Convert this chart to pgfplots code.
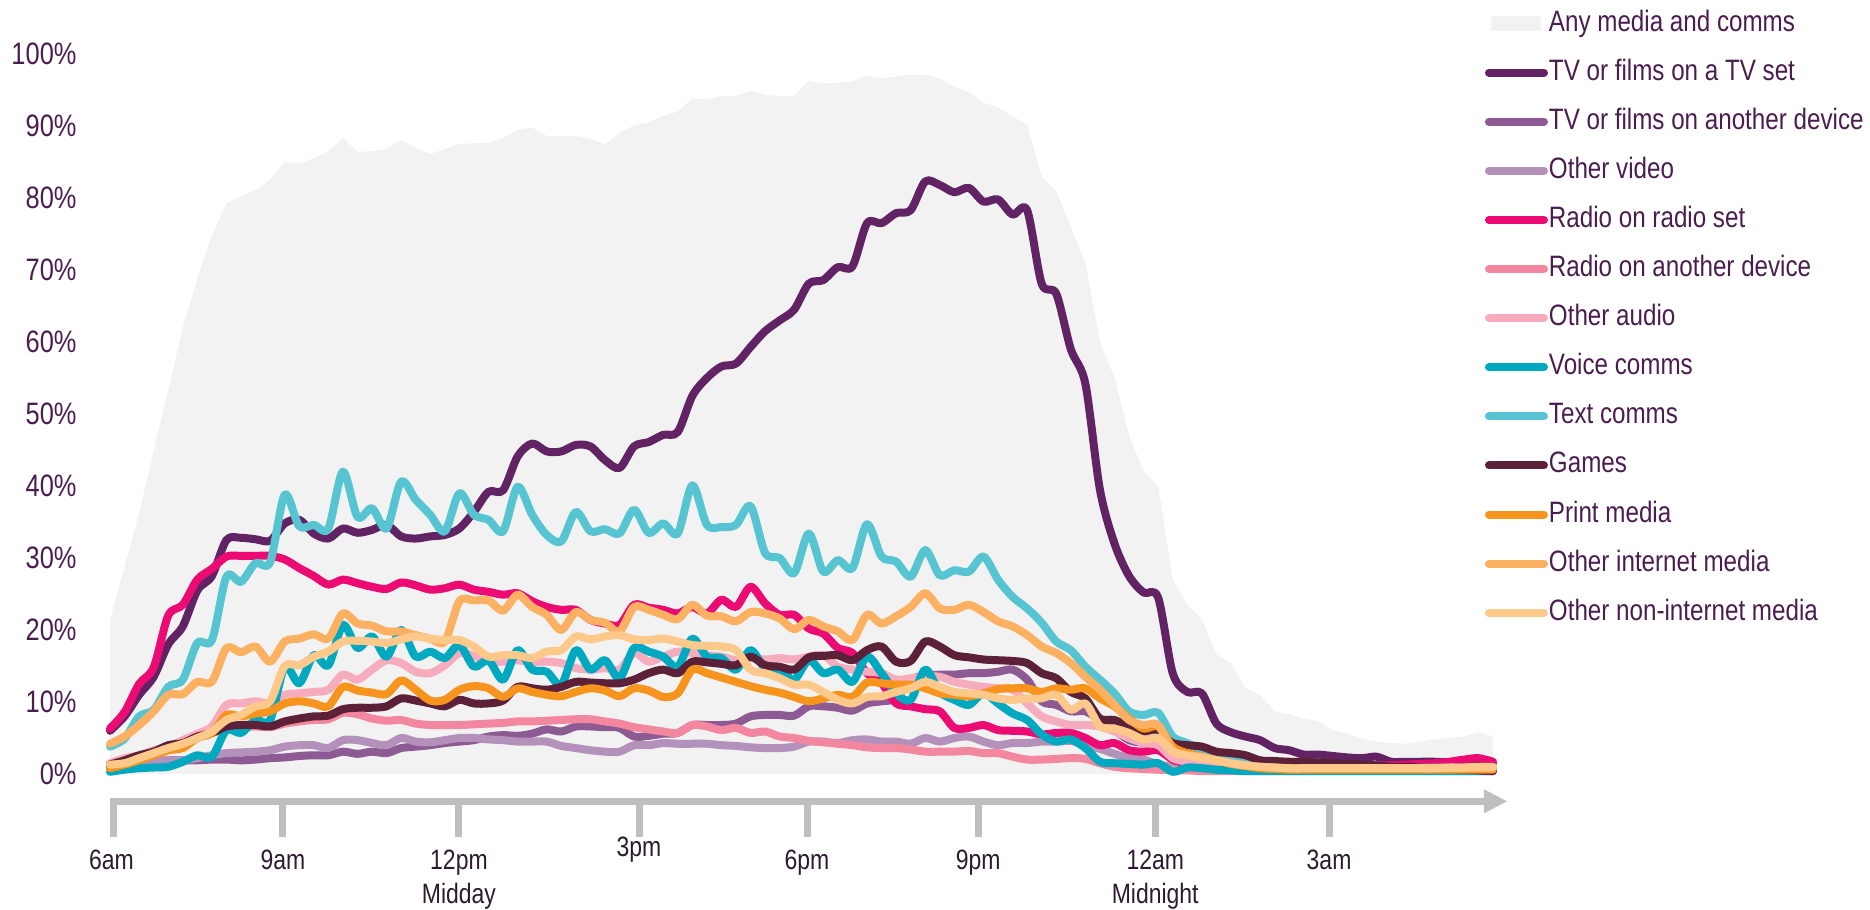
\documentclass[border=0pt]{standalone}
\usepackage{pgfplots}
\pgfplotsset{compat=1.18}
\usepackage{pgfplotstable}
\usepackage{fontspec}
\setmainfont{Liberation Sans}[FakeStretch=0.82]
\definecolor{anyc}{HTML}{F2F2F2}
\definecolor{tvc}{HTML}{612364}
\definecolor{tvoc}{HTML}{8E5A94}
\definecolor{ovc}{HTML}{B491BA}
\definecolor{rrc}{HTML}{EC0B73}
\definecolor{rac}{HTML}{F2879F}
\definecolor{oac}{HTML}{F6ACBC}
\definecolor{vcc}{HTML}{00A9BF}
\definecolor{tcc}{HTML}{56C5D1}
\definecolor{gmc}{HTML}{5C2139}
\definecolor{pmc}{HTML}{F7941D}
\definecolor{oic}{HTML}{FBB062}
\definecolor{onc}{HTML}{FDC98B}
\definecolor{axgray}{HTML}{BFBFBF}
\definecolor{ylab}{HTML}{4B1D4F}
\definecolor{xlab}{HTML}{2D1A2F}
\pgfplotsset{ln/.style={line width=3.2pt, line cap=round, line join=round, smooth, tension=0.5}}

\pgfplotstableread{
i any tv tvo ov rr ra oa vc tc gm pm oi on
0 21.3 6.0 0.8 1.2 6.3 1.3 1.5 0.3 3.8 1.3 0.8 4.2 1.3
1 28.8 8.0 1.1 1.5 8.6 1.7 2.2 0.6 4.9 1.9 1.3 5.2 1.5
2 36.1 11.0 1.5 1.7 12.5 2.2 2.6 0.8 8.0 2.6 1.9 6.8 2.2
3 45.0 13.5 1.7 1.9 14.8 2.6 3.3 0.9 8.9 3.1 2.6 8.7 2.9
4 53.2 18.0 1.9 1.9 22.0 3.3 3.8 1.0 12.1 4.0 3.3 11.0 3.6
5 62.0 20.5 1.9 1.9 23.5 4.0 4.7 1.7 13.1 4.3 3.6 11.1 4.2
6 68.8 25.5 1.9 2.2 27.0 5.0 5.6 2.6 18.2 5.2 5.0 12.8 5.0
7 74.8 27.5 2.0 2.6 28.5 5.7 6.6 2.4 18.6 5.7 5.7 12.8 5.9
8 79.3 32.5 2.0 2.9 30.2 6.2 9.6 6.1 27.4 6.6 8.2 17.5 7.5
9 80.2 32.8 1.9 3.0 30.3 6.5 9.8 5.7 26.7 6.8 8.0 16.9 8.2
10 81.1 32.6 2.0 3.1 30.3 6.6 10.1 7.5 29.3 6.8 8.4 17.7 9.4
11 82.5 32.4 2.2 3.3 30.3 6.5 9.8 7.5 29.4 6.6 8.7 15.6 10.1
12 85.0 34.8 2.3 3.8 29.8 7.0 11.0 14.9 38.8 7.3 9.8 18.4 15.0
13 84.8 35.3 2.5 4.0 28.6 7.3 11.2 12.6 34.4 7.7 10.1 18.8 15.1
14 85.5 33.4 2.6 4.0 27.5 7.5 11.4 16.5 34.6 8.0 9.8 19.4 16.3
15 86.5 32.7 2.6 3.6 26.3 7.6 11.7 15.1 34.1 8.1 9.4 18.8 17.0
16 88.3 34.1 3.1 4.7 27.0 8.5 13.8 20.7 42.0 9.0 12.1 22.3 18.4
17 86.4 33.5 2.8 4.7 26.5 8.3 13.1 17.5 35.7 9.2 11.6 20.9 18.5
18 86.5 33.9 3.1 4.3 26.0 7.7 14.5 19.1 36.9 9.2 11.3 20.6 18.4
19 86.8 34.6 2.9 4.0 25.7 7.4 15.8 16.3 34.1 9.4 11.1 19.8 18.2
20 88.1 33.0 3.6 5.0 26.6 7.5 15.4 20.0 40.6 10.5 13.0 19.8 18.7
21 86.9 32.7 3.8 4.5 26.2 7.0 14.2 16.3 38.1 10.2 11.7 19.3 19.1
22 86.1 33.0 4.0 4.4 25.6 6.8 14.0 17.0 36.0 9.8 10.2 18.8 18.8
23 86.8 33.2 4.3 4.7 25.8 6.8 15.1 16.1 33.7 9.4 10.3 18.4 18.6
24 87.5 34.1 4.5 5.0 26.3 6.8 16.8 17.9 39.0 10.3 11.7 24.0 18.6
25 87.6 36.4 4.7 5.0 25.6 6.9 16.4 14.9 36.0 9.8 12.2 24.1 17.7
26 87.7 39.2 5.2 4.8 25.3 7.0 15.6 15.8 35.3 9.8 11.9 24.1 16.3
27 88.3 39.4 5.4 4.7 24.9 7.1 15.6 13.1 33.7 10.2 10.7 22.7 16.5
28 89.5 44.1 5.3 4.5 25.1 7.3 15.8 17.2 39.9 12.1 11.9 24.9 16.5
29 89.8 45.9 5.6 4.5 24.0 7.3 15.5 14.5 36.0 11.9 11.4 23.2 16.1
30 88.6 44.8 6.2 4.5 23.2 7.4 15.6 14.2 33.2 11.7 11.0 22.1 17.0
31 88.6 44.8 5.9 3.9 22.8 7.5 15.4 12.4 32.3 12.1 10.8 20.0 17.2
32 88.6 45.7 6.6 3.6 22.8 7.6 14.7 17.2 36.4 12.8 11.4 22.5 19.1
33 88.2 45.5 6.6 3.3 21.4 7.6 14.5 14.5 33.7 12.7 11.9 21.4 18.7
34 87.5 43.6 6.5 3.1 20.9 7.3 14.7 15.8 34.0 12.6 11.6 21.0 19.1
35 89.0 42.5 6.4 3.1 20.7 7.0 14.5 13.3 33.4 12.6 10.8 19.8 19.3
36 90.1 45.5 5.2 4.0 23.5 6.5 16.8 17.5 36.7 13.1 11.9 23.2 18.7
37 90.5 46.1 5.3 4.0 23.1 6.2 15.6 17.0 33.5 14.0 11.6 22.8 18.6
38 91.4 47.1 5.6 4.3 22.8 5.9 16.3 16.3 34.8 14.5 10.7 22.1 18.8
39 92.0 47.5 5.7 4.2 22.3 5.7 17.0 14.9 33.4 14.0 11.2 21.5 18.4
40 93.8 52.5 6.8 4.2 23.2 6.8 16.8 18.8 40.1 15.6 14.5 23.5 17.9
41 93.7 55.0 6.8 4.2 22.3 6.6 16.5 16.3 34.6 15.5 14.0 22.0 17.8
42 94.2 56.6 6.8 4.0 24.2 6.1 16.3 16.1 34.3 15.3 13.4 21.9 17.7
43 94.2 57.0 7.0 3.9 23.2 6.4 15.8 14.5 34.6 15.1 12.8 21.2 17.2
44 94.9 59.3 8.0 3.7 26.0 5.7 16.1 17.2 37.2 16.3 12.2 22.5 14.5
45 94.3 61.5 8.2 3.6 23.7 5.9 15.9 14.7 30.7 15.1 11.7 22.3 14.0
46 94.2 63.0 8.2 3.6 22.1 5.2 16.1 14.5 30.0 14.9 11.3 21.6 13.3
47 94.2 64.5 8.1 3.8 22.1 5.0 15.9 13.1 27.9 14.5 10.7 20.1 12.4
48 96.3 68.1 9.4 4.5 20.2 4.6 16.3 15.8 33.4 16.2 10.1 21.4 12.4
49 95.9 68.6 9.4 4.5 19.5 4.4 16.5 14.0 28.1 16.4 10.5 20.5 11.4
50 96.0 70.4 9.2 4.3 17.5 4.2 14.9 14.5 29.7 16.5 11.0 19.8 10.3
51 96.2 70.5 8.8 4.7 16.8 4.0 14.5 12.8 28.6 15.8 10.7 18.6 9.8
52 97.0 76.5 9.8 4.8 14.0 3.7 14.2 16.3 34.7 17.2 12.7 22.1 10.7
53 96.6 76.5 10.1 4.5 12.6 3.6 14.0 14.0 30.2 17.7 12.6 20.9 10.8
54 96.9 77.9 10.5 4.5 9.8 3.6 13.1 11.2 29.5 15.6 12.4 21.9 11.4
55 97.1 78.3 13.1 4.2 9.4 3.4 13.3 10.3 27.4 15.7 12.4 23.2 11.9
56 97.1 82.3 13.6 5.0 9.0 3.1 13.5 14.5 31.1 18.4 11.9 25.1 12.8
57 96.6 81.8 13.8 4.5 8.7 3.1 13.5 11.4 27.6 17.7 11.2 23.0 12.1
58 95.4 80.8 13.8 5.0 6.4 3.1 12.8 10.3 28.3 16.5 11.0 22.8 11.4
59 94.7 81.4 14.0 5.2 6.4 3.2 12.4 9.6 28.1 16.2 10.8 23.5 11.2
60 93.2 79.5 14.0 4.5 6.8 2.9 12.1 11.2 30.2 15.9 11.2 22.5 11.0
61 92.6 79.8 14.2 4.0 6.1 2.9 11.9 9.8 27.0 15.8 11.8 21.2 10.5
62 91.3 77.7 14.5 4.3 6.0 2.4 11.7 8.4 24.6 15.7 11.9 20.5 10.3
63 90.2 78.3 13.1 4.3 5.9 2.0 9.8 7.5 23.0 15.4 11.9 19.3 10.5
64 83.0 68.1 10.1 4.5 5.5 2.0 8.0 5.5 21.0 14.0 11.4 17.7 10.5
65 81.0 66.7 9.6 4.5 5.7 2.1 7.3 4.5 18.4 13.3 11.9 16.8 11.0
66 76.0 59.0 8.7 4.6 5.7 2.2 6.8 4.8 17.2 11.4 11.7 15.4 8.9
67 71.0 54.2 8.7 4.0 5.0 2.1 6.8 3.6 14.9 10.5 11.9 13.5 9.8
68 60.0 39.5 7.5 3.5 4.0 1.5 6.6 1.7 13.1 7.7 10.5 11.7 6.6
69 55.0 32.0 6.1 2.8 4.3 1.0 5.9 1.5 11.2 7.5 9.4 9.6 6.3
70 47.0 27.5 4.7 2.2 3.3 0.8 5.0 1.4 8.7 6.6 7.7 7.5 5.7
71 42.0 25.2 4.3 2.0 3.1 0.7 4.3 1.3 8.2 5.9 6.3 6.8 4.8
72 40.0 24.5 3.8 1.3 3.3 0.6 4.0 1.5 8.5 5.7 6.6 6.8 5.0
73 27.0 14.0 2.4 1.0 2.0 0.5 2.2 0.3 5.2 4.3 3.8 3.3 3.1
74 23.5 11.4 1.9 0.8 1.5 0.5 1.7 0.9 4.3 4.0 2.9 2.6 2.6
75 21.5 11.2 1.4 0.7 1.3 0.4 1.3 0.8 3.3 3.8 2.4 2.4 2.2
76 16.6 7.0 1.2 0.6 1.2 0.4 1.0 0.6 2.6 3.1 1.9 1.9 1.9
77 15.4 5.8 1.0 0.6 1.2 0.4 0.8 0.5 2.3 2.9 1.4 1.5 1.5
78 11.9 5.2 0.9 0.5 1.2 0.4 0.7 0.4 2.0 2.6 1.1 1.2 1.2
79 11.0 4.7 0.8 0.5 1.2 0.4 0.6 0.4 1.5 1.9 0.8 1.0 1.0
80 8.7 3.6 0.7 0.5 1.2 0.4 0.6 0.4 1.3 1.8 0.7 0.9 0.9
81 8.3 3.3 0.7 0.5 1.2 0.4 0.6 0.4 1.1 1.7 0.6 0.8 0.8
82 7.7 2.7 0.6 0.5 1.2 0.4 0.5 0.4 1.0 1.7 0.6 0.8 0.8
83 7.3 2.7 0.6 0.5 1.2 0.4 0.5 0.4 1.0 1.6 0.6 0.8 0.8
84 6.1 2.5 0.6 0.5 1.2 0.4 0.5 0.4 0.9 1.5 0.6 0.8 0.8
85 5.6 2.3 0.5 0.5 1.2 0.4 0.5 0.4 0.9 1.4 0.6 0.8 0.8
86 4.9 2.2 0.5 0.5 1.2 0.4 0.5 0.4 0.9 1.3 0.6 0.8 0.8
87 4.5 2.4 0.5 0.5 1.2 0.4 0.5 0.4 0.9 1.2 0.6 0.8 0.8
88 4.3 1.7 0.5 0.5 1.2 0.4 0.5 0.4 0.9 1.0 0.6 0.8 0.8
89 4.2 1.7 0.5 0.5 1.3 0.4 0.5 0.4 0.9 1.0 0.6 0.8 0.8
90 4.5 1.7 0.5 0.5 1.4 0.4 0.5 0.4 0.9 0.9 0.6 0.8 0.8
91 4.8 1.7 0.5 0.5 1.5 0.4 0.5 0.4 0.9 0.8 0.6 0.8 0.8
92 5.0 1.6 0.5 0.5 1.7 0.4 0.5 0.4 0.9 0.7 0.6 0.8 0.9
93 5.2 1.6 0.5 0.5 2.0 0.4 0.5 0.4 0.9 0.6 0.6 0.8 0.9
94 5.8 1.6 0.5 0.5 2.2 0.4 0.5 0.4 0.9 0.5 0.6 0.8 1.0
95 5.2 1.5 0.5 0.5 1.7 0.4 0.5 0.4 0.9 0.4 0.6 0.8 1.0
}\media

\begin{document}
\begin{tikzpicture}
\begin{axis}[
  at={(44pt,54.4pt)}, anchor=south west,
  scale only axis, width=553.2pt, height=288pt,
  xmin=0, xmax=95, ymin=0, ymax=100,
  clip=false,
  axis line style={draw=none},
  xtick=\empty,
  ytick={0,10,20,30,40,50,60,70,80,90,100},
  yticklabels={0\%,10\%,20\%,30\%,40\%,50\%,60\%,70\%,80\%,90\%,100\%},
  major tick length=0pt,
  yticklabel style={font=\fontsize{12.4}{14}\selectfont, text=ylab, inner sep=0pt, anchor=east, xshift=-13.2pt},
  legend cell align=left,
  legend image code/.code={\draw[#1, line width=3.2pt, line cap=round] (1.6pt,0pt) -- (20.4pt,0pt); \path (0pt,0pt) rectangle (22pt,0pt);},
  legend style={at={(0.99422,1.0597)}, anchor=north west, draw=none, fill=none,
    inner sep=0pt, outer sep=0pt, row sep=9.64pt, column sep=0.4pt,
    font=\fontsize{11.8}{14}\selectfont, text=ylab,
    nodes={inner sep=0pt, text height=8pt, text depth=2pt}},
]
\addplot[draw=none, fill=anyc, sharp plot,
  legend image code/.code={\fill[anyc] (0.7pt,-3.1pt) rectangle (21pt,3.1pt); \path (0pt,0pt) rectangle (22pt,0pt);}]
  table[x=i,y=any]{\media} \closedcycle;
\addlegendentry{Any media and comms}
\addplot[ln, tvc] table[x=i,y=tv]{\media};
\addlegendentry{TV or films on a TV set}
\addplot[ln, tvoc] table[x=i,y=tvo]{\media};
\addlegendentry{TV or films on another device}
\addplot[ln, ovc] table[x=i,y=ov]{\media};
\addlegendentry{Other video}
\addplot[ln, rrc] table[x=i,y=rr]{\media};
\addlegendentry{Radio on radio set}
\addplot[ln, rac] table[x=i,y=ra]{\media};
\addlegendentry{Radio on another device}
\addplot[ln, oac] table[x=i,y=oa]{\media};
\addlegendentry{Other audio}
\addplot[ln, vcc] table[x=i,y=vc]{\media};
\addlegendentry{Voice comms}
\addplot[ln, tcc] table[x=i,y=tc]{\media};
\addlegendentry{Text comms}
\addplot[ln, gmc] table[x=i,y=gm]{\media};
\addlegendentry{Games}
\addplot[ln, pmc] table[x=i,y=pm]{\media};
\addlegendentry{Print media}
\addplot[ln, oic] table[x=i,y=oi]{\media};
\addlegendentry{Other internet media}
\addplot[ln, onc] table[x=i,y=on]{\media};
\addlegendentry{Other non-internet media}

% time axis
\draw[axgray, line width=2.8pt] (axis cs:0,-3.8) -- (axis cs:94.6,-3.8);
\fill[axgray] (axis cs:94.38,-2.13) -- (axis cs:95.96,-3.8) -- (axis cs:94.38,-5.47) -- cycle;
\draw[axgray, line width=2.8pt] (axis cs:0.25,-3.8) -- (axis cs:0.25,-8.7);
\draw[axgray, line width=2.8pt] (axis cs:11.88,-3.8) -- (axis cs:11.88,-8.7);
\draw[axgray, line width=2.8pt] (axis cs:23.97,-3.8) -- (axis cs:23.97,-8.7);
\draw[axgray, line width=2.8pt] (axis cs:36.34,-3.8) -- (axis cs:36.34,-8.7);
\draw[axgray, line width=2.8pt] (axis cs:47.88,-3.8) -- (axis cs:47.88,-8.7);
\draw[axgray, line width=2.8pt] (axis cs:59.64,-3.8) -- (axis cs:59.64,-8.7);
\draw[axgray, line width=2.8pt] (axis cs:71.8,-3.8) -- (axis cs:71.8,-8.7);
\draw[axgray, line width=2.8pt] (axis cs:83.74,-3.8) -- (axis cs:83.74,-8.7);
\tikzset{xl/.style={font=\fontsize{11.2}{13}\selectfont, text=xlab, inner sep=0pt, anchor=base}}
\node[xl] at (axis cs:0.1,-13.3) {6am};
\node[xl] at (axis cs:11.88,-13.3) {9am};
\node[xl] at (axis cs:23.97,-13.3) {12pm};
\node[xl] at (axis cs:23.97,-18.0) {Midday};
\node[xl] at (axis cs:36.34,-11.5) {3pm};
\node[xl] at (axis cs:47.88,-13.3) {6pm};
\node[xl] at (axis cs:59.64,-13.3) {9pm};
\node[xl] at (axis cs:71.8,-13.3) {12am};
\node[xl] at (axis cs:71.8,-18.0) {Midnight};
\node[xl] at (axis cs:83.74,-13.3) {3am};
\end{axis}
\pgfresetboundingbox
\path[use as bounding box] (0pt,0pt) rectangle (748pt,364pt);
\end{tikzpicture}
\end{document}
